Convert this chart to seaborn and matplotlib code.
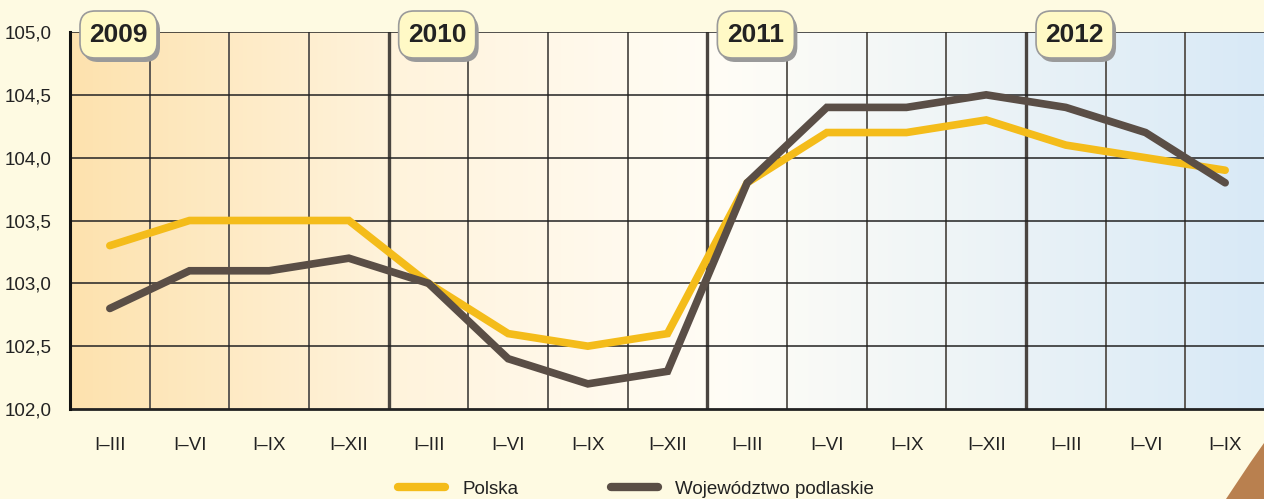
import matplotlib
matplotlib.use("Agg")
import matplotlib.pyplot as plt
import seaborn as sns
import numpy as np
import pandas as pd
from matplotlib.colors import LinearSegmentedColormap
from matplotlib.patches import FancyBboxPatch, Polygon

# dane
okresy = ["I–III", "I–VI", "I–IX", "I–XII",
          "I–III", "I–VI", "I–IX", "I–XII",
          "I–III", "I–VI", "I–IX", "I–XII",
          "I–III", "I–VI", "I–IX"]
lata = ["2009", "2010", "2011", "2012"]
polska = [103.3, 103.5, 103.5, 103.5, 103.0, 102.6, 102.5, 102.6,
          103.8, 104.2, 104.2, 104.3, 104.1, 104.0, 103.9]
podlaskie = [102.8, 103.1, 103.1, 103.2, 103.0, 102.4, 102.2, 102.3,
             103.8, 104.4, 104.4, 104.5, 104.4, 104.2, 103.8]
y_ticks = [102.0, 102.5, 103.0, 103.5, 104.0, 104.5, 105.0]

n = len(okresy)
df = pd.DataFrame({
    "x": list(range(n)) * 2,
    "wartosc": polska + podlaskie,
    "seria": ["Polska"] * n + ["Województwo podlaskie"] * n,
})

sns.set_style("white")
plt.rcParams["font.family"] = ["Liberation Sans", "DejaVu Sans"]

BG = "#FEFAE2"
fig = plt.figure(figsize=(12.64, 4.99), dpi=100, facecolor=BG)
ax = fig.add_axes([70 / 1264, 90 / 499, 1195 / 1264, 377 / 499])
ax.set_facecolor(BG)

# tło z gradientem
cmap = LinearSegmentedColormap.from_list("tlo", [
    (0.0, "#FDE2AE"), (0.27, "#FFF3DC"), (0.55, "#FFFDF6"), (1.0, "#D8E9F7")])
grad = np.linspace(0, 1, 512).reshape(1, -1)
ax.imshow(grad, cmap=cmap, aspect="auto", extent=[0, 1, 0, 1],
          transform=ax.transAxes, zorder=0)

# siatka
for i in range(1, n):
    xb = i - 0.5
    if i % 4 == 0:
        ax.axvline(xb, color="#4a4540", lw=2.4, zorder=1)
    else:
        ax.axvline(xb, color="#5e5a55", lw=1.4, zorder=1)
for yv in y_ticks[1:]:
    ax.axhline(yv, color="#222222", lw=1.1, zorder=1)

sns.lineplot(data=df, x="x", y="wartosc", hue="seria",
             palette={"Polska": "#F4BC1A", "Województwo podlaskie": "#5A4E46"},
             linewidth=5.5, ax=ax, zorder=3, legend=True)
for ln in ax.get_lines():
    ln.set_solid_capstyle("round")
    ln.set_solid_joinstyle("miter")

ax.set_xlim(-0.5, n - 0.5)
ax.set_ylim(102.0, 105.0)
ax.set_xticks(range(n))
ax.set_xticklabels(okresy)
ax.set_xticks(np.arange(-0.5, n - 0.5, 1), minor=True)
ax.tick_params(axis="x", which="major", length=0, pad=20, labelsize=13.5,
               labelcolor="#222222")
ax.tick_params(axis="x", which="minor", length=10, width=1.5, color="#222222",
               direction="out")
ax.set_yticks(y_ticks)
ax.set_yticklabels([f"{v:.1f}".replace(".", ",") for v in y_ticks])
ax.tick_params(axis="y", length=10, width=2, color="#111111", pad=3,
               labelsize=13.5, labelcolor="#222222")
ax.set_xlabel("")
ax.set_ylabel("")
for s in ["top", "right"]:
    ax.spines[s].set_visible(False)
ax.spines["left"].set_linewidth(2.2)
ax.spines["left"].set_color("#111111")
ax.spines["bottom"].set_linewidth(2.0)
ax.spines["bottom"].set_color("#222222")
ax.spines["left"].set_zorder(4)

# etykiety lat
for k, rok in enumerate(lata):
    x0 = (70 + 10 + k * 4 * 79.67) / 1264
    y0 = (499 - 58) / 499
    w, h = 77 / 1264, 47 / 499
    shadow = FancyBboxPatch((x0 + 3 / 1264, y0 - 4 / 499), w, h,
                            boxstyle="round,pad=0,rounding_size=0.012",
                            transform=fig.transFigure, facecolor="#9a9a9a",
                            edgecolor="none", zorder=5, mutation_aspect=1264 / 499)
    box = FancyBboxPatch((x0, y0), w, h,
                         boxstyle="round,pad=0,rounding_size=0.012",
                         transform=fig.transFigure, facecolor="#FFF9C6",
                         edgecolor="#9a9a9a", lw=1.2, zorder=6,
                         mutation_aspect=1264 / 499)
    fig.patches.extend([shadow, box])
    fig.text(x0 + w / 2, y0 + h / 2, rok, ha="center", va="center",
             fontsize=19, fontweight="bold", color="#222222", zorder=7)

# legenda
leg = ax.legend(loc="center left", bbox_to_anchor=(398 / 1264, 1 - 489 / 499),
                bbox_transform=fig.transFigure, ncol=2, frameon=False,
                handlelength=2.5, handletextpad=0.95, columnspacing=4.9,
                borderpad=0, borderaxespad=0, fontsize=13.5)
for t in leg.get_texts():
    t.set_color("#222222")
for hnd in leg.legend_handles:
    hnd.set_linewidth(6)
    hnd.set_solid_capstyle("round")

# narożnik (współrzędne w pikselach, od dołu)
fig.patches.append(Polygon([(1264, 56), (1250, 36), (1226, 0), (1264, 0)],
                           closed=True, transform=None, facecolor="#B9804F",
                           edgecolor="none", zorder=2))

fig.savefig("out.png", dpi=100, facecolor=BG)
